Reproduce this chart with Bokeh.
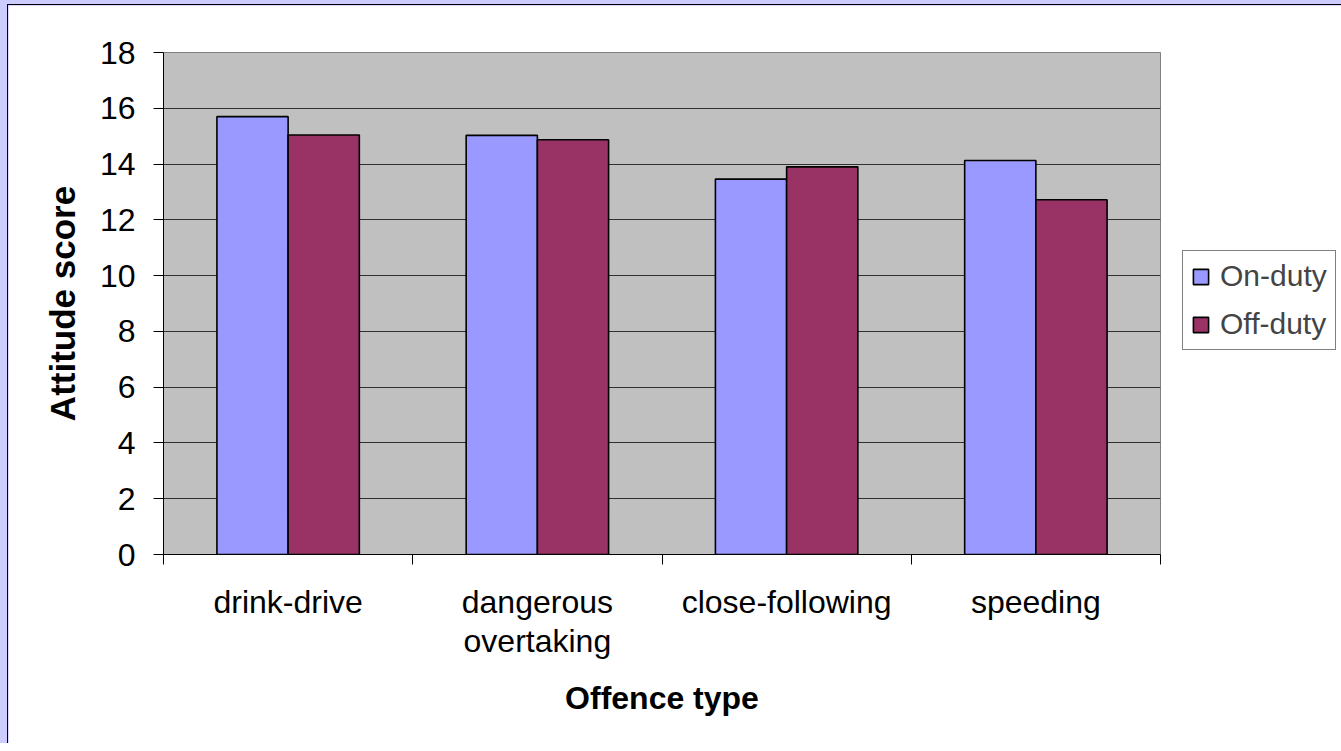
import numpy as np
from bokeh.plotting import figure
from bokeh.layouts import column
from bokeh.models import ColumnDataSource, FixedTicker, Legend, LegendItem, Range1d
from bokeh.embed import file_html
from bokeh.resources import INLINE

categories = ["drink-drive", "dangerous\novertaking", "close-following", "speeding"]
on_duty = [15.7, 15.03, 13.46, 14.13]
off_duty = [15.04, 14.87, 13.9, 12.72]
series_names = ["On-duty", "Off-duty"]
y_ticks = [0, 2, 4, 6, 8, 10, 12, 14, 16, 18]

FONT = "Liberation Sans"
bar_w = 1 / 3.5
idx = np.arange(len(categories))

src = ColumnDataSource(dict(
    x_on=idx + 0.5 - bar_w / 2,
    x_off=idx + 0.5 + bar_w / 2,
    on=on_duty,
    off=off_duty,
))

p = figure(
    output_backend="svg", toolbar_location=None,
    frame_width=996, frame_height=501,
    min_border_left=155, min_border_right=174,
    min_border_top=47, min_border_bottom=190,
    x_range=Range1d(0, len(categories)), y_range=Range1d(0, 18),
    background_fill_color="#C0C0C0", border_fill_color="white",
    outline_line_color="#808080",
    styles={"border-left": "1px solid black", "border-top": "1px solid black"},
)

r_on = p.vbar(x="x_on", top="on", width=bar_w, source=src,
              fill_color="#9999FF", line_color="black", line_width=1.6)
r_off = p.vbar(x="x_off", top="off", width=bar_w, source=src,
               fill_color="#993366", line_color="black", line_width=1.6)

# x axis
xa = p.xaxis[0]
xa.ticker = FixedTicker(ticks=list(idx + 0.5), minor_ticks=list(range(len(categories) + 1)))
xa.major_label_overrides = {float(i + 0.5): c for i, c in enumerate(categories)}
xa.major_tick_line_color = None
xa.major_tick_out = 10
xa.major_tick_in = 0
xa.minor_tick_out = 10
xa.minor_tick_in = 0
xa.minor_tick_line_color = "black"
xa.axis_line_color = "black"
xa.major_label_text_font = FONT
xa.major_label_text_font_size = "32px"
xa.major_label_text_line_height = 1.1
xa.major_label_text_color = "black"
xa.major_label_standoff = 19
xa.axis_label = "Offence type"
xa.axis_label_text_font = FONT
xa.axis_label_text_font_size = "32px"
xa.axis_label_text_font_style = "bold"
xa.axis_label_text_color = "black"
xa.axis_label_standoff = 18

# y axis
ya = p.yaxis[0]
ya.ticker = FixedTicker(ticks=y_ticks)
ya.major_tick_out = 10
ya.major_tick_in = 0
ya.minor_tick_line_color = None
ya.axis_line_color = "black"
ya.major_tick_line_color = "black"
ya.major_label_text_font = FONT
ya.major_label_text_font_size = "32px"
ya.major_label_text_color = "black"
ya.major_label_standoff = 18
ya.axis_label = "Attitude score"
ya.axis_label_text_font = FONT
ya.axis_label_text_font_size = "35px"
ya.axis_label_text_font_style = "bold"
ya.axis_label_text_color = "black"
ya.axis_label_standoff = 15

p.xgrid.grid_line_color = None
p.ygrid.grid_line_color = "#303030"
p.ygrid.grid_line_width = 1

legend = Legend(
    items=[LegendItem(label=series_names[0], renderers=[r_on]),
           LegendItem(label=series_names[1], renderers=[r_off])],
    location=(22, 204),
    label_text_font=FONT, label_text_font_size="30px",
    glyph_width=19, glyph_height=19, label_standoff=10,
    spacing=14, padding=8, margin=0,
    border_line_color="black", border_line_width=1,
    background_fill_color="white", background_fill_alpha=1,
)
p.add_layout(legend, "right")

lay = column(p, styles={"background-color": "#CCCCFF", "padding-left": "7px", "padding-top": "4px"})

open("out.html", "w").write(file_html(lay, INLINE))
